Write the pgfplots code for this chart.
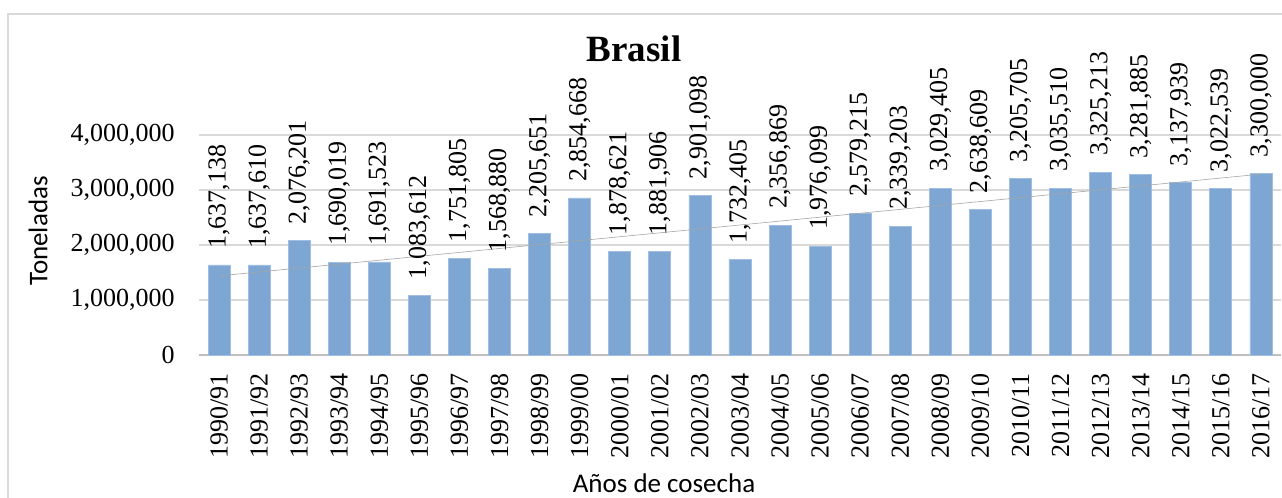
\documentclass[border=0pt]{standalone}
\usepackage{pgfplots}
\pgfplotsset{compat=1.18}
\usepackage{fontspec}
\setmainfont{Liberation Serif}
\newfontfamily\calibri{Carlito}
\definecolor{barblue}{RGB}{126,166,210}
\definecolor{baredge}{RGB}{160,190,225}
\definecolor{gridgray}{RGB}{217,217,217}
\definecolor{axisgray}{RGB}{191,191,191}
\definecolor{framegray}{RGB}{217,217,217}
\definecolor{trendgray}{RGB}{165,165,165}

\pgfplotstableread{
x y lab
0 1637138 1,637,138
1 1637610 1,637,610
2 2076201 2,076,201
3 1690019 1,690,019
4 1691523 1,691,523
5 1083612 1,083,612
6 1751805 1,751,805
7 1568880 1,568,880
8 2205651 2,205,651
9 2854668 2,854,668
10 1878621 1,878,621
11 1881906 1,881,906
12 2901098 2,901,098
13 1732405 1,732,405
14 2356869 2,356,869
15 1976099 1,976,099
16 2579215 2,579,215
17 2339203 2,339,203
18 3029405 3,029,405
19 2638609 2,638,609
20 3205705 3,205,705
21 3035510 3,035,510
22 3325213 3,325,213
23 3281885 3,281,885
24 3137939 3,137,939
25 3022539 3,022,539
26 3300000 3,300,000
}\datatable

\pgfplotstableread{
x y
0 1438700
26 3288700
}\trendtable

\begin{document}
\begin{tikzpicture}
\useasboundingbox (0,0) rectangle (641pt,249pt);
\draw[framegray, line width=0.9pt] (4pt,242pt) rectangle (660pt,-20pt);
\begin{axis}[
  at={(99.5pt,71.5pt)}, anchor=south west,
  scale only axis, width=541pt, height=110pt,
  xmin=-0.5, xmax=26.5, ymin=0, ymax=4000000,
  axis x line*=bottom, axis y line*=left,
  x axis line style={draw=axisgray, line width=1.3pt, -},
  y axis line style={draw=none, -},
  major tick length=0pt,
  ymajorgrids, grid style={draw=gridgray, line width=0.8pt},
  ytick={0,1000000,2000000,3000000,4000000},
  yticklabels={0,{1,000,000},{2,000,000},{3,000,000},{4,000,000}},
  scaled y ticks=false,
  xtick={0,...,26},
  xticklabels={1990/91,1991/92,1992/93,1993/94,1994/95,1995/96,1996/97,1997/98,1998/99,1999/00,2000/01,2001/02,2002/03,2003/04,2004/05,2005/06,2006/07,2007/08,2008/09,2009/10,2010/11,2011/12,2012/13,2013/14,2014/15,2015/16,2016/17},
  tick label style={font=\fontsize{13pt}{15pt}\selectfont},
  xticklabel style={rotate=90, anchor=east, inner sep=0pt, inner xsep=9pt},
  yticklabel style={anchor=east, inner sep=0pt, inner xsep=12pt},
  clip=false,
]
\addplot[ybar, bar width=11pt, fill=barblue, draw=baredge, line width=0.4pt,
  nodes near coords={\mbox{\rmfamily\fontsize{13pt}{15pt}\selectfont\pgfplotspointmeta}}, point meta=explicit symbolic,
  nodes near coords style={rotate=90, anchor=west, inner sep=0pt, inner xsep=8pt, text=black}]
  table[x=x, y=y, meta=lab] {\datatable};
\addplot[sharp plot, trendgray, line width=0.3pt, mark=none] table[x=x, y=y] {\trendtable};
\end{axis}
\node[font=\bfseries\fontsize{18.5pt}{22pt}\selectfont, anchor=base] at (317pt,218pt) {Brasil};
\node[font=\calibri\fontsize{13.5pt}{16pt}\selectfont, rotate=90, anchor=center] at (19pt,133.5pt) {Toneladas};
\node[font=\calibri\fontsize{13.5pt}{16pt}\selectfont, anchor=base] at (332pt,2.5pt) {Años de cosecha};
\end{tikzpicture}
\end{document}
